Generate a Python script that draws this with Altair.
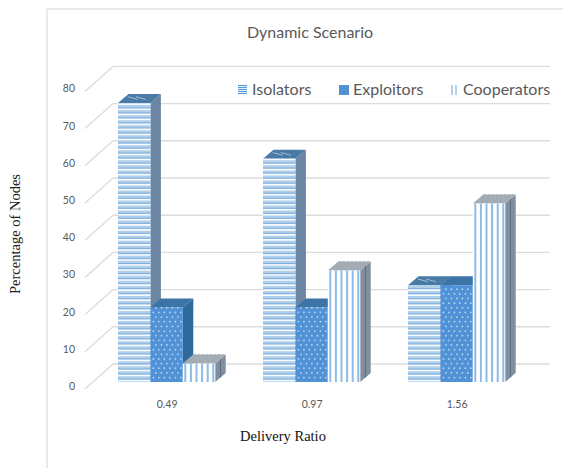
import altair as alt
import pandas as pd

# Chart values
categories = ["0.49", "0.97", "1.56"]
isolators = [75, 60, 26]
exploitors = [20, 20, 26]
cooperators = [5, 30, 48]
series_names = ["Isolators", "Exploitors", "Cooperators"]
y_ticks = [0, 10, 20, 30, 40, 50, 60, 70, 80]

W, H = 563, 468
UNIT = 3.72            # pixels per percentage point
BASE = 382             # baseline of the front faces
GROUP_START, GROUP_STEP, BAR_W = 118, 145, 32.4
DX, DV = 10.5, 9 / UNIT   # extrusion of the prisms
BACK_X0, BACK_X1, WALL_X = 113, 550, 85
BACK_V, WALL_V = 18 / UNIT, -7 / UNIT

x_scale = alt.Scale(domain=[0, W], range=[0, W], nice=False, zero=False)
y_scale = alt.Scale(domain=[-(H - BASE) / UNIT, BASE / UNIT], range=[H, 0], nice=False, zero=False)
X = alt.X("x:Q", scale=x_scale, axis=None)
Y = alt.Y("y:Q", scale=y_scale, axis=None)


def rules(rows, color, width, opacity=1.0):
    return alt.Chart(pd.DataFrame(rows)).mark_rule(
        color=color, strokeWidth=width, opacity=opacity
    ).encode(x=X, x2="x2:Q", y=Y, y2="y2:Q")


STYLE = {
    "Isolators": dict(front="#b0cfeb", side="#6a86a2", top="#4a7aa6"),
    "Exploitors": dict(front="#5192d6", side="#2f6a9f", top="#3c74a8"),
    "Cooperators": dict(front="#ffffff", side="#808f9f", top="#a3abb3"),
}

bars = []
for s_idx, (name, vals) in enumerate(zip(series_names, [isolators, exploitors, cooperators])):
    for g_idx, v in enumerate(vals):
        x0 = GROUP_START + g_idx * GROUP_STEP + s_idx * BAR_W
        bars.append(dict(name=name, bar=f"{name}-{g_idx}", group=g_idx, v=v, x0=x0, x1=x0 + BAR_W))

sides, tops, fronts = [], [], []
white_lines, blue_lines, v_lines, top_lines, side_lines, dots = [], [], [], [], [], []
for b in bars:
    v, x0, x1 = b["v"], b["x0"], b["x1"]
    sides += [
        dict(bar=b["bar"], name=b["name"], x=x1, y=0, y2=v),
        dict(bar=b["bar"], name=b["name"], x=x1 + DX, y=DV, y2=v + DV),
    ]
    tops += [
        dict(bar=b["bar"], name=b["name"], y=v, x=x0, x2=x1),
        dict(bar=b["bar"], name=b["name"], y=v + DV, x=x0 + DX, x2=x1 + DX),
    ]
    fronts.append(dict(name=b["name"], x=x0, x2=x1, y=0, y2=v))
    if b["name"] == "Isolators":
        # Horizontal hatching: white bands, each edged by a thin blue line
        step = 1.35
        yy = 0.4
        while yy < v:
            white_lines.append(dict(x=x0, x2=x1, y=yy, y2=yy))
            if yy + 0.4 < v:
                blue_lines.append(dict(x=x0, x2=x1, y=yy + 0.4, y2=yy + 0.4))
            yy += step
        for frac in (0.3, 0.55):
            tx = x0 + BAR_W * frac
            top_lines.append(dict(x=tx, x2=tx + 10, y=v + DV * 0.7, y2=v + DV * 0.4))
    elif b["name"] == "Exploitors":
        row = 0
        yy = 1.2
        while yy < v:
            off = 2.5 if row % 2 else 0
            xx = x0 + 3 + off
            while xx < x1 - 1:
                dots.append(dict(x=xx, y=yy))
                xx += 5.5
            yy += 1.25
            row += 1
    else:
        xx = x0 + 2.5
        while xx < x1:
            v_lines.append(dict(x=xx, x2=xx, y=0, y2=v))
            xx += 5.6
        tx = x0 + 2
        while tx < x1:
            side_lines.append(dict(x=tx, x2=tx + DX, y=v, y2=v + DV))
            tx += 4
        side_lines.append(dict(x=x1 + DX * 0.5, x2=x1 + DX * 0.5, y=DV * 0.5, y2=v + DV * 0.5))

side_layer = alt.Chart(pd.DataFrame(sides)).mark_area().encode(
    x=X, y=Y, y2="y2:Q", detail="bar:N",
    color=alt.Color("name:N", legend=None, scale=alt.Scale(
        domain=series_names, range=[STYLE[n]["side"] for n in series_names])),
)
top_layer = alt.Chart(pd.DataFrame(tops)).mark_area(orient="horizontal").encode(
    y=Y, x=X, x2="x2:Q", detail="bar:N",
    color=alt.Color("name:N", legend=None, scale=alt.Scale(
        domain=series_names, range=[STYLE[n]["top"] for n in series_names])),
)
front_layer = alt.Chart(pd.DataFrame(fronts)).mark_rect().encode(
    x=X, x2="x2:Q", y=Y, y2="y2:Q",
    color=alt.Color("name:N", legend=None, scale=alt.Scale(
        domain=series_names, range=[STYLE[n]["front"] for n in series_names])),
)
dot_layer = alt.Chart(pd.DataFrame(dots)).mark_point(
    filled=True, color="#cfe2f6", size=3, opacity=0.85
).encode(x=X, y=Y)

# Back wall and side wall gridlines
back_grid = [dict(x=BACK_X0, x2=BACK_X1, y=t + BACK_V, y2=t + BACK_V) for t in y_ticks]
wall_grid = [dict(x=WALL_X, x2=BACK_X0, y=t + WALL_V, y2=t + BACK_V) for t in y_ticks]
grid_layer = rules(back_grid + wall_grid, "#dcdcdc", 1.4)


def frame_line(**enc):
    return alt.Chart(pd.DataFrame({"k": [0]})).mark_rule(
        color="#e2e2e2", strokeWidth=1.5
    ).encode(**enc)


# Outer frame: left and top edges only
frame = [
    frame_line(x=alt.value(47), y=alt.value(9), y2=alt.value(H)),
    frame_line(y=alt.value(9), x=alt.value(47), x2=alt.value(W)),
]

# Texts
tick_text = alt.Chart(pd.DataFrame({"t": y_ticks})).mark_text(
    align="right", baseline="middle", font="Lato", fontSize=10.5, color="#595959"
).encode(x=alt.value(75), y=alt.Y("y:Q", scale=y_scale, axis=None), text="t:Q").transform_calculate(
    y=f"datum.t + {WALL_V + 2 / UNIT}"
)

cat_df = pd.DataFrame(dict(label=categories,
                           x=[GROUP_START + i * GROUP_STEP + 1.5 * BAR_W + 0.5 for i in range(3)]))
cat_text = alt.Chart(cat_df).mark_text(
    baseline="middle", font="Lato", fontSize=10.5, color="#595959"
).encode(x=X, y=alt.value(405), text="label:N")


def label(text, x, y, size, font="Lato", color="#595959", align="center", weight="normal", angle=0):
    return alt.Chart(pd.DataFrame({"t": [text]})).mark_text(
        font=font, fontSize=size, color=color, align=align, baseline="middle",
        fontWeight=weight, angle=angle,
    ).encode(x=alt.value(x), y=alt.value(y), text="t:N")


texts = [
    label("Dynamic Scenario", 310, 33, 16),
    label("Isolators", 252, 90, 16, align="left"),
    label("Exploitors", 353, 90, 16, align="left"),
    label("Cooperators", 463, 90, 16, align="left"),
    label("Delivery Ratio", 283, 437, 14.5, font="Liberation Serif", color="#111111"),
    label("Percentage of Nodes", 16, 234, 14.5, font="Liberation Serif", color="#222222", angle=270),
]


def swatch(x0, x1, color):
    df = pd.DataFrame({"k": [0]})
    return alt.Chart(df).mark_rect(color=color).encode(
        x=alt.value(x0), x2=alt.value(x1), y=alt.value(85), y2=alt.value(95))


def swatch_lines(positions, y0, y1, color, width, vertical):
    out = []
    for p in positions:
        df = pd.DataFrame({"k": [0]})
        if vertical:
            enc = dict(x=alt.value(p), y=alt.value(y0), y2=alt.value(y1))
        else:
            enc = dict(y=alt.value(p), x=alt.value(y0), x2=alt.value(y1))
        out.append(alt.Chart(df).mark_rule(color=color, strokeWidth=width).encode(**enc))
    return out


legend_marks = (
    swatch_lines([85.5, 87.5, 89.5, 91.5, 93.5], 238, 247, "#5b9bd5", 1.2, False)
    + [swatch(339, 349, "#5192d6")]
    + swatch_lines([452, 456], 85, 95, "#7fb2e0", 1.2, True)
)

layers = frame + [grid_layer, side_layer]
layers.append(rules(side_lines, "#5f6f80", 1))
layers += [top_layer]
layers.append(rules(top_lines, "#9dbbd6", 1))
layers += [front_layer]
layers.append(rules(white_lines, "#ffffff", 1.6, 0.9))
layers.append(rules(blue_lines, "#6ea3d8", 0.8, 0.9))
layers.append(rules(v_lines, "#8dbbe6", 2))
layers.append(dot_layer)
layers += [tick_text, cat_text] + texts + legend_marks

chart = alt.layer(*layers).resolve_scale(color="independent").properties(
    width=W, height=H, padding=0, background="white",
    autosize=alt.AutoSizeParams(type="none"),
).configure_view(stroke=None)

chart.save("out.html", embed_options={"renderer": "svg", "actions": False})
